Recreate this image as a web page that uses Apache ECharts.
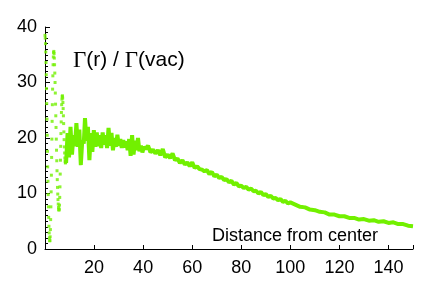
<!DOCTYPE html>
<html><head><meta charset="utf-8">
<script src="https://cdn.jsdelivr.net/npm/echarts@6/dist/echarts.min.js"></script>
<style>html,body{margin:0;padding:0;background:#fff}#c{width:436px;height:287px}</style>
</head><body><div id="c"></div>
<script>
// Dotted part near the centre (r, value)
const dotR = [0.0,0.1,0.2,0.3,0.4,0.5,0.6,0.7,0.8,0.9,1.0,1.1,1.2,1.3,1.4,1.5,1.6,1.7,1.8,1.9,2.0,
  2.1,2.2,2.3,2.4,2.5,2.6,2.7,2.8,2.9,3.0,3.1,3.2,3.3,3.4,3.5,3.6,3.7,
  3.8,3.9,4.0,4.1,4.2,4.3,4.4,4.5,4.6,4.7,4.8,4.9,5.0,5.1,5.2,5.3,5.4,5.5,5.6,5.7,5.8,
  5.9,6.0,6.1,6.2,6.3,6.4,6.5,6.6,6.7,6.8,6.9,7.0,7.1,7.2,
  7.3,7.4,7.5,7.6,7.7,7.8,7.9,8.0,8.1,8.2,8.3,8.4];
const dotV = [38.5,38.0,37.0,35.5,33.6,31.4,28.9,26.2,23.4,20.5,17.6,14.8,12.2,9.8,7.6,5.7,4.1,2.9,2.0,1.5,1.5,
  2.2,3.5,5.3,7.6,10.3,13.3,16.5,19.8,23.0,26.0,28.8,31.2,33.2,34.6,35.4,35.6,35.2,
  34.4,33.2,31.7,30.0,28.1,26.1,24.0,21.9,19.8,17.8,15.9,14.1,12.5,11.1,9.9,8.9,8.1,7.5,7.1,7.0,7.2,
  7.9,9.3,11.2,13.5,16.0,18.5,20.8,22.9,24.6,26.0,27.0,27.5,27.6,27.2,
  26.4,25.3,24.0,22.6,21.1,19.7,18.4,17.3,16.4,15.8,15.5,15.6];
// Dense band further out (r, value)
const bandR = [8.6,9.2,9.8,10.4,11.0,11.6,12.2,12.8,13.4,14.0,14.6,15.2,15.8,16.3,16.9,17.5,18.1,18.7,19.3,19.9,
  20.5,21.1,21.7,22.3,22.9,23.5,24.1,24.7,25.3,25.9,26.5,27.1,27.7,28.3,28.9,29.5,30.1,30.7,31.3,31.9,
  32.5,33.1,33.7,34.3,34.9,35.5,36.1,36.7,37.3,37.9,38.5,39.1,39.7,40.3,
  41,42,43,44,45,46,47,48,49,50,51,52,53,54,55,56,57,58,59,60,61,62,63,64,65,66,67,68,69,70,
  71,72,73,74,75,76,77,78,79,80,81,82,83,84,85,86,87,88,89,90,91,92,93,94,95,96,97,98,99,100,
  102,104,106,108,110,112,114,116,118,120,122,124,126,128,130,132,134,136,138,140,142,144,146,148,150];
const bandV = [15.5,20.9,16.5,22.0,17.0,20.5,18.5,22.7,18.4,21.5,15.1,19.6,19.0,23.6,19.5,22.0,16.0,20.9,17.5,21.4,
  18.4,21.0,18.5,20.5,18.2,21.0,18.8,20.5,18.2,21.8,18.6,20.9,17.8,20.0,18.4,20.6,18.6,19.8,18.2,19.6,
  18.3,19.4,17.8,19.8,16.8,20.5,17.0,19.5,17.8,20.0,17.6,18.6,17.4,18.4,
  18.0,18.6,17.4,17.9,17.2,17.8,16.9,18.0,16.5,17.0,16.4,17.2,16.0,16.3,15.5,16.0,15.2,15.6,14.9,15.6,14.6,14.9,14.4,14.3,14.0,14.2,13.5,13.9,13.1,13.4,
  12.8,13.0,12.4,12.6,12.0,12.3,11.6,11.9,11.3,11.4,11.0,11.2,10.7,10.9,10.4,10.5,10.0,10.3,9.7,9.9,9.4,9.6,9.1,9.2,8.8,9.0,8.5,8.7,8.2,8.4,
  8.0,7.6,7.5,7.1,7.0,6.7,6.6,6.2,6.2,5.9,5.9,5.6,5.6,5.3,5.4,5.1,5.2,4.9,5.0,4.7,4.8,4.5,4.5,4.2,4.1];
const xTicks = [20,40,60,80,100,120,140];
const yTicks = [0,10,20,30,40];

const green = '#72f000';
const chart = echarts.init(document.getElementById('c'));
chart.setOption({
  animation: false,
  grid: {left: 45, right: 23, top: 27, bottom: 38},
  xAxis: {
    type: 'value', min: 0, max: 150, interval: 20,
    axisLine: {lineStyle: {color: '#000', width: 1}},
    axisTick: {inside: true, length: 4, lineStyle: {color: '#000'}},
    minorTick: {show: false},
    splitLine: {show: false},
    axisLabel: {color: '#000', fontSize: 18, fontFamily: 'Liberation Sans', margin: 10,
      formatter: v => xTicks.indexOf(v) >= 0 ? String(v) : ''}
  },
  yAxis: {
    type: 'value', min: 0, max: 40, interval: 10,
    axisLine: {show: true, lineStyle: {color: '#000', width: 1}},
    axisTick: {show: true, inside: true, length: 5, lineStyle: {color: '#000'}},
    minorTick: {show: true, splitNumber: 10, length: 3, lineStyle: {color: '#000'}},
    splitLine: {show: false},
    axisLabel: {color: '#000', fontSize: 18, fontFamily: 'Liberation Sans', margin: 8,
      formatter: v => yTicks.indexOf(v) >= 0 ? String(v) : ''}
  },
  graphic: [
    {type: 'text', left: 73, top: 49, z: 10, style: {
      text: '{g|Γ}{s|(r) / }{g|Γ}{s|(vac)}',
      rich: {
        g: {fontFamily: 'Liberation Serif', fontSize: 23, fill: '#000'},
        s: {fontFamily: 'Liberation Sans', fontSize: 21, fill: '#000'}
      }
    }},
    {type: 'text', left: 212, top: 227, z: 10, style: {
      text: 'Distance from center', fontFamily: 'Liberation Sans', fontSize: 18, fill: '#000'
    }}
  ],
  series: [
    {type: 'scatter', symbol: 'rect', symbolSize: 3, itemStyle: {color: green},
      data: dotR.map((r, i) => [r, dotV[i]]), z: 3},
    {type: 'line', showSymbol: false, symbol: 'none', lineStyle: {color: green, width: 4},
      data: bandR.map((r, i) => [r, bandV[i]]), z: 2}
  ]
});
</script></body></html>
